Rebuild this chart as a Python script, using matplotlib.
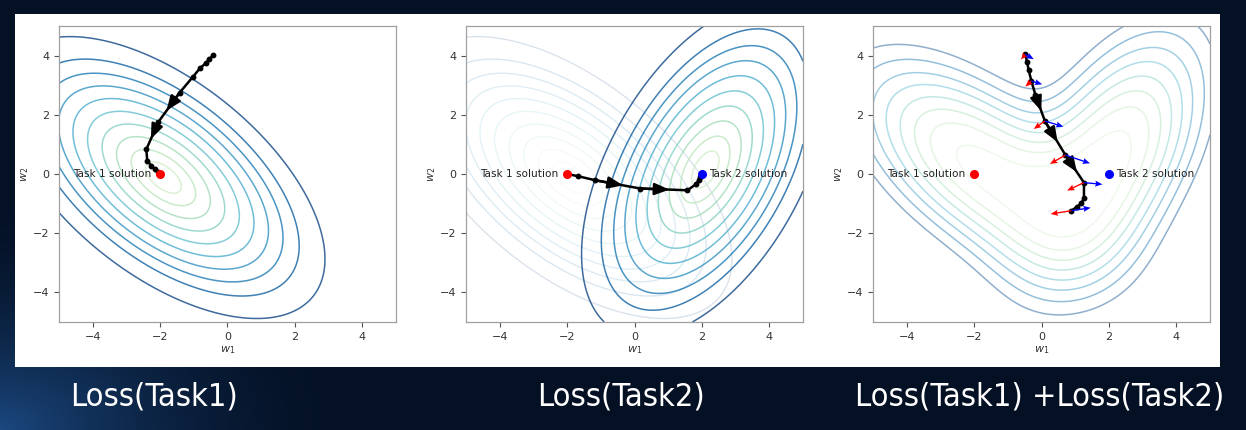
import numpy as np
import matplotlib.pyplot as plt
from matplotlib import font_manager
from matplotlib.patches import Rectangle

task1_centre = [-1.90, -0.12]
task1_cov = [[4.79, -2.75], [-2.75, 4.73]]
task2_centre = [2.10, 0.15]
task2_cov = [[2.81, 2.19], [2.19, 6.67]]

single_levels = [0.029, 0.091, 0.183, 0.292, 0.411, 0.529, 0.637, 0.731, 0.816, 0.909]
# the summed loss of the right panel sits a little higher than the single ones
sum_shift_w2 = 0.45
# and its contours cross the line w1 = 0.5 at these w2
sum_cross_w1 = 0.5
sum_cross_w2 = [-2.12, -2.57, -2.91, -3.24, -3.58, -3.92, -4.31, -4.76]

sol_x = [-2.0, 2.0]
sol_y = [0.0, 0.0]
sol_labels = ["Task 1 solution", "Task 2 solution"]

# SGD paths
path1_x = [-0.43, -0.54, -0.65, -0.82, -1.02, -1.42, -2.05, -2.41, -2.38, -2.26, -2.16, -2.06, -2.0]
path1_y = [4.02, 3.87, 3.74, 3.57, 3.29, 2.75, 1.76, 0.83, 0.44, 0.28, 0.16, 0.07, 0.0]
path1_arrows = [5, 6]

path2_x = [-2.0, -1.69, -1.17, 0.17, 1.57, 1.83, 1.90, 1.95, 2.0]
path2_y = [0.0, -0.07, -0.21, -0.49, -0.55, -0.34, -0.21, -0.10, 0.0]
path2_arrows = [2, 3]

path3_x = [-0.48, -0.43, -0.38, -0.30, -0.18, 0.10, 0.71, 1.26, 1.26, 1.18, 1.06, 0.89]
path3_y = [4.04, 3.79, 3.51, 3.14, 2.67, 1.79, 0.64, -0.29, -0.82, -0.99, -1.10, -1.24]
path3_arrows = [4, 5, 6]

# per-task gradient arrows along path 3
grad_idx = [0, 3, 5, 6, 7, 11]
grad1_u = [-0.13, -0.18, -0.33, -0.46, -0.50, -0.62]
grad1_v = [-0.17, -0.19, -0.27, -0.30, -0.27, -0.11]
grad2_u = [0.25, 0.32, 0.55, 0.73, 0.55, 0.57]
grad2_v = [-0.16, -0.11, -0.19, -0.28, -0.06, 0.10]

captions = ["Loss(Task1)", "Loss(Task2)", "Loss(Task1) +Loss(Task2)"]
caption_left = [70, 537, 855]      # px
caption_width = [168, 168, 370]    # px


def bowl(W1, W2, centre, cov, dy=0.0):
    P = np.linalg.inv(np.array(cov))
    d1 = W1 - centre[0]
    d2 = W2 - centre[1] - dy
    q = P[0, 0] * d1 ** 2 + 2 * P[0, 1] * d1 * d2 + P[1, 1] * d2 ** 2
    return 1 - np.exp(-q / 2)


def total(W1, W2):
    return (bowl(W1, W2, task1_centre, task1_cov, sum_shift_w2)
            + bowl(W1, W2, task2_centre, task2_cov, sum_shift_w2))


def draw_path(ax, xs, ys, arrows):
    ax.plot(xs, ys, color="black", lw=1.8, marker="o", ms=3.2, zorder=4)
    for i in arrows:
        x0, y0 = xs[i], ys[i]
        x1 = x0 + 0.62 * (xs[i + 1] - x0)
        y1 = y0 + 0.62 * (ys[i + 1] - y0)
        ax.annotate("", xy=(x1, y1), xytext=(x0, y0),
                    arrowprops=dict(arrowstyle="-|>,head_length=0.55,head_width=0.22",
                                    color="black", lw=1.8,
                                    mutation_scale=16, shrinkA=0, shrinkB=0),
                    zorder=5)


def style(ax):
    ax.set_xlim(-5, 5)
    ax.set_ylim(-5, 5)
    ax.set_xticks([-4, -2, 0, 2, 4])
    ax.set_yticks([-4, -2, 0, 2, 4])
    ax.tick_params(labelsize=8, colors="#555555", labelcolor="#333333", length=3.5, width=0.8)
    for s in ax.spines.values():
        s.set_color("#a0a0a0")
        s.set_linewidth(0.9)
    ax.set_xlabel("$w_1$", fontsize=8, color="#333333", labelpad=2)
    ax.set_ylabel("$w_2$", fontsize=8, color="#333333", labelpad=1)


def solutions(ax, which):
    colours = ["red", "blue"]
    for i in which:
        ax.plot(sol_x[i], sol_y[i], "o", color=colours[i], ms=5.5, zorder=6)
        if i == 0:
            ax.text(sol_x[i] - 0.25, sol_y[i], sol_labels[i], ha="right", va="center",
                    fontsize=7.6, color="#222222")
        else:
            ax.text(sol_x[i] + 0.2, sol_y[i], sol_labels[i], ha="left", va="center",
                    fontsize=7.6, color="#222222")


g = np.linspace(-5, 5, 500)
W1, W2 = np.meshgrid(g, g)
L1 = bowl(W1, W2, task1_centre, task1_cov)
L2 = bowl(W1, W2, task2_centre, task2_cov)
L3 = total(W1, W2)
sum_levels = sorted(float(total(sum_cross_w1, y)) for y in sum_cross_w2)
single_colours = plt.get_cmap("GnBu")(np.linspace(0.22, 1.0, len(single_levels)))
sum_colours = plt.get_cmap("GnBu")(np.linspace(0.15, 0.95, len(sum_levels)))

fig = plt.figure(figsize=(12.46, 4.30), dpi=100)

# slide background with a faint blue glow bottom left
bg = fig.add_axes([0, 0, 1, 1], zorder=-10)
yy, xx = np.mgrid[0:1:200j, 0:1:400j]
glow = np.clip(1 - np.hypot(xx * 3.2, (yy - 1) * 1.7), 0, 1) ** 2
img = np.zeros((200, 400, 3))
img[..., 0] = 0.016 + 0.09 * glow
img[..., 1] = 0.063 + 0.22 * glow
img[..., 2] = 0.14 + 0.36 * glow
bg.imshow(img, extent=[0, 1, 0, 1], aspect="auto")
bg.set_axis_off()
fig.patches.append(Rectangle((15 / 1246, 1 - 367 / 430), 1205 / 1246, 353 / 430,
                             transform=fig.transFigure, facecolor="white",
                             edgecolor="none", zorder=-5))

lefts = [59 / 1246, 466 / 1246, 873 / 1246]
axes = [fig.add_axes([l, 1 - 322 / 430, 337 / 1246, 296 / 430]) for l in lefts]
ax1, ax2, ax3 = axes

ax1.contour(W1, W2, L1, levels=single_levels, colors=single_colours, alpha=0.78, linewidths=1.1)
draw_path(ax1, path1_x, path1_y, path1_arrows)
solutions(ax1, [0])

ax2.contour(W1, W2, L1, levels=single_levels, colors=single_colours, alpha=0.15, linewidths=1.0)
ax2.contour(W1, W2, L2, levels=single_levels, colors=single_colours, alpha=0.78, linewidths=1.1)
draw_path(ax2, path2_x, path2_y, path2_arrows)
solutions(ax2, [0, 1])

ax3.contour(W1, W2, L3, levels=sum_levels, colors=sum_colours, alpha=0.45, linewidths=1.1)
draw_path(ax3, path3_x, path3_y, path3_arrows)
gx = [path3_x[i] for i in grad_idx]
gy = [path3_y[i] for i in grad_idx]
ax3.quiver(gx, gy, grad1_u, grad1_v, color="red", angles="xy", scale_units="xy", scale=1,
           width=0.004, headwidth=4.5, headlength=5.5, headaxislength=4.8, zorder=6)
ax3.quiver(gx, gy, grad2_u, grad2_v, color="blue", angles="xy", scale_units="xy", scale=1,
           width=0.004, headwidth=4.5, headlength=5.5, headaxislength=4.8, zorder=6)
solutions(ax3, [0, 1])

for ax in axes:
    style(ax)

# captions: a narrow face if one is installed, sized to the slide's text width
narrow = [f for f in font_manager.fontManager.ttflist
          if "Narrow" in f.name or "Condensed" in f.fname or "Narrow" in f.fname]
cap_font = dict(family=[narrow[0].name, "DejaVu Sans"], stretch=narrow[0].stretch) if narrow \
    else dict(family=["Roboto", "DejaVu Sans"])
renderer = fig.canvas.get_renderer()
for x, w, t in zip(caption_left, caption_width, captions):
    txt = fig.text(x / 1246, 1 - 397 / 430, t, ha="left", va="center", color="white",
                   fontsize=25, **cap_font)
    bb = txt.get_window_extent(renderer)
    txt.set_fontsize(min(25, 25 * w / bb.width))

fig.savefig("out.png", dpi=100, facecolor=fig.get_facecolor())
